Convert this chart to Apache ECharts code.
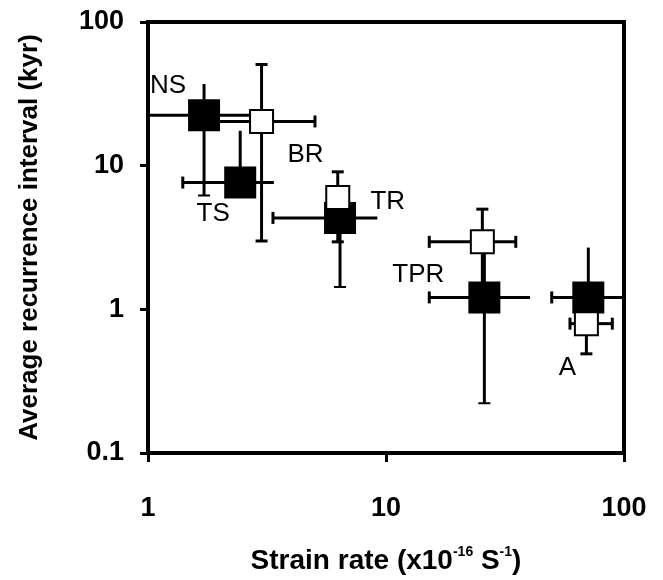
<!DOCTYPE html>
<html>
<head>
<meta charset="utf-8">
<script src="https://cdn.jsdelivr.net/npm/echarts@6/dist/echarts.min.js"></script>
<style>
  html, body { margin: 0; padding: 0; background: #fff; }
  #chart { width: 663px; height: 580px; }
</style>
</head>
<body>
<div id="chart"></div>
<script>
// filled squares
var filledSites = ['NS', 'TS', 'TR', 'TPR', 'A'];
var filledX     = [1.72, 2.44, 6.41, 25.9, 70.8];
var filledY     = [22.4, 7.63, 4.33, 1.21, 1.21];
var filledXLow  = [0.9, 1.40, 3.35, 15.2, 49.7];
var filledXHigh = [2.9, 3.38, 9.2, 40.3, 120];
var filledYLow  = [6.2, 6.5, 1.43, 0.222, 1.0];
var filledYHigh = [37, 17.5, 5.0, 2.5, 2.69];

// open squares
var openSites = ['BR', 'TR', 'TPR', 'A'];
var openX     = [3.0, 6.27, 25.4, 69.5];
var openY     = [20.3, 6.0, 2.95, 0.795];
var openXLow  = [1.9, 6.27, 15.2, 59.3];
var openXHigh = [5.03, 6.27, 35.1, 89.3];
var openYLow  = [2.99, 2.95, 1.5, 0.49];
var openYHigh = [50.6, 9.06, 4.98, 1.0];

// which points carry a site name
var filledLabeled = { 'NS': [-36, -30], 'TS': [-27, 31], 'TPR': [-66, -23] };
var openLabeled   = { 'BR': [44, 33], 'TR': [50, 4], 'A': [-19, 44] };

var font = 'Liberation Sans, Arial, sans-serif';

function errRows(xs, ys, xl, xh, yl, yh) {
  var rows = [];
  for (var i = 0; i < xs.length; i++) {
    rows.push([xs[i], ys[i], xl[i], xh[i], yl[i], yh[i]]);
  }
  return rows;
}

function makeErrRender(capHigh, capXw, capYw) {
  return function (params, api) {
    var x = api.value(0), y = api.value(1);
    var c = api.coord([x, y]);
    var kids = [];
    var half = 6;
    function seg(x1, y1, x2, y2, w) {
      kids.push({ type: 'line', shape: { x1: x1, y1: y1, x2: x2, y2: y2 },
        style: { stroke: '#000', lineWidth: w || 3 } });
    }
    var xl = api.value(2), xh = api.value(3), yl = api.value(4), yh = api.value(5);
    if (xl !== x) {
      var p = api.coord([xl, y]);
      seg(p[0], c[1], c[0], c[1]);
      seg(p[0], c[1] - half, p[0], c[1] + half, capXw);
    }
    if (xh !== x) {
      var p2 = api.coord([xh, y]);
      seg(c[0], c[1], p2[0], c[1]);
      if (capHigh) seg(p2[0], c[1] - half, p2[0], c[1] + half, capXw);
    }
    if (yl !== y) {
      var p3 = api.coord([x, yl]);
      seg(c[0], c[1], c[0], p3[1]);
      seg(c[0] - half, p3[1], c[0] + half, p3[1], capYw);
    }
    if (yh !== y) {
      var p4 = api.coord([x, yh]);
      seg(c[0], p4[1], c[0], c[1]);
      if (capHigh) seg(c[0] - half, p4[1], c[0] + half, p4[1], capYw);
    }
    return { type: 'group', children: kids };
  };
}

function pointData(sites, xs, ys, labeled) {
  var out = [];
  for (var i = 0; i < sites.length; i++) {
    var item = { name: sites[i], value: [xs[i], ys[i]] };
    if (labeled[sites[i]]) {
      item.label = { show: true, position: 'inside', formatter: sites[i],
        offset: labeled[sites[i]], color: '#000', fontSize: 26, fontFamily: font };
    }
    out.push(item);
  }
  return out;
}

var chart = echarts.init(document.getElementById('chart'));

var option = {
  backgroundColor: '#FFFFFF',
  animation: false,
  grid: {
    left: 148, right: 39, top: 22, bottom: 116,
    show: true, borderColor: '#000', borderWidth: 4, backgroundColor: 'transparent'
  },
  xAxis: {
    type: 'log', logBase: 10, min: 1, max: 100,
    axisLine: { show: true, lineStyle: { color: '#000', width: 4 } },
    axisTick: { show: true, length: 9, lineStyle: { color: '#000', width: 3 } },
    minorTick: { show: false },
    splitLine: { show: false },
    axisLabel: { color: '#000', fontSize: 27, fontWeight: 'bold', fontFamily: font, margin: 42 },
    name: '{a|Strain rate (x10}{s|-16}{a| S}{s|-1}{a|)}',
    nameLocation: 'middle',
    nameGap: 92,
    nameTextStyle: {
      rich: {
        a: { fontSize: 28, fontWeight: 'bold', fontFamily: font, color: '#000', lineHeight: 32 },
        s: { fontSize: 14, fontWeight: 'bold', fontFamily: font, color: '#000', verticalAlign: 'top', lineHeight: 32 }
      }
    }
  },
  yAxis: {
    type: 'log', logBase: 10, min: 0.1, max: 100,
    axisLine: { show: true, lineStyle: { color: '#000', width: 4 } },
    axisTick: { show: true, length: 8, lineStyle: { color: '#000', width: 3 } },
    minorTick: { show: false },
    splitLine: { show: false },
    axisLabel: {
      color: '#000', fontSize: 27, fontWeight: 'bold', fontFamily: font, margin: 24,
      formatter: function (v) { return v < 1 ? String(+v.toFixed(1)) : String(Math.round(v)); }
    },
    name: 'Average recurrence interval (kyr)',
    nameLocation: 'middle',
    nameRotate: 90,
    nameGap: 105,
    nameTextStyle: { color: '#000', fontSize: 26, fontWeight: 'bold', fontFamily: font }
  },
  series: [
    {
      type: 'custom', z: 2, clip: true,
      renderItem: makeErrRender(false, 3, 2),
      encode: { x: 0, y: 1 },
      data: errRows(filledX, filledY, filledXLow, filledXHigh, filledYLow, filledYHigh)
    },
    {
      type: 'custom', z: 2, clip: true,
      renderItem: makeErrRender(true, 3, 3),
      encode: { x: 0, y: 1 },
      data: errRows(openX, openY, openXLow, openXHigh, openYLow, openYHigh)
    },
    {
      type: 'scatter', z: 3, symbol: 'rect', symbolSize: 32,
      itemStyle: { color: '#000', opacity: 1 },
      data: pointData(filledSites, filledX, filledY, filledLabeled)
    },
    {
      type: 'scatter', z: 4, symbol: 'rect', symbolSize: 23,
      itemStyle: { color: '#fff', borderColor: '#000', borderWidth: 2, opacity: 1 },
      data: pointData(openSites, openX, openY, openLabeled)
    }
  ]
};

chart.setOption(option);
window.addEventListener('resize', function () { chart.resize(); });
</script>
</body>
</html>
